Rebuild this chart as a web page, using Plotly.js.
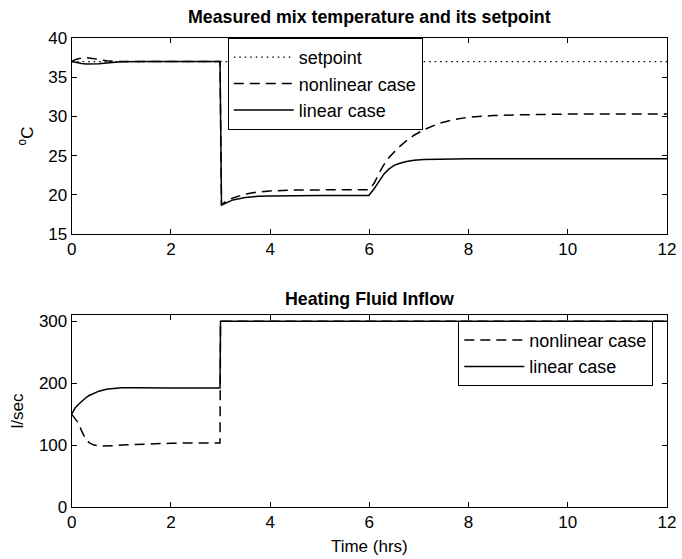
<!DOCTYPE html>
<html><head><meta charset="utf-8">
<script src="https://cdn.plot.ly/plotly-3.0.1.min.js"></script>
<style>html,body{margin:0;padding:0;background:#fff}#chart{width:682px;height:559px}</style>
</head><body><div id="chart"></div>
<script>
// ---- Top panel: measured mix temperature (deg C) ----
const tTemp = [0, 0.1, 0.2, 0.3, 0.42, 0.55, 0.7, 0.85, 1.0, 1.5, 2.0, 2.5, 2.99, 3.02, 3.1, 3.25, 3.5, 3.75, 4.0, 4.5, 5.0, 5.5, 5.99, 6.1, 6.2, 6.3, 6.4, 6.5, 6.6, 6.75, 6.9, 7.1, 7.4, 7.7, 8.0, 8.5, 9.0, 10.0, 11.0, 12.0];
const tempLinear = [37.0, 36.85, 36.75, 36.7, 36.68, 36.72, 36.82, 36.92, 36.97, 37.0, 37.0, 37.0, 37.0, 18.7, 18.95, 19.35, 19.65, 19.8, 19.85, 19.9, 19.9, 19.9, 19.9, 20.8, 21.8, 22.7, 23.3, 23.75, 24.0, 24.25, 24.4, 24.5, 24.55, 24.6, 24.6, 24.6, 24.6, 24.6, 24.6, 24.6];
const tempNonlinear = [37.0, 37.3, 37.45, 37.5, 37.4, 37.25, 37.1, 37.02, 37.0, 37.0, 37.0, 37.0, 37.0, 18.7, 19.15, 19.6, 20.1, 20.35, 20.5, 20.6, 20.65, 20.65, 20.65, 21.5, 22.8, 23.9, 24.8, 25.5, 26.1, 26.9, 27.6, 28.3, 29.1, 29.6, 29.9, 30.1, 30.2, 30.3, 30.3, 30.3];
const setpointTime = [0, 12];
const setpointValue = [37, 37];

// ---- Bottom panel: heating fluid inflow (l/sec) ----
const tFlow = [0, 0.07, 0.14, 0.2, 0.28, 0.35, 0.45, 0.55, 0.7, 0.83, 1.0, 1.3, 1.6, 2.0, 2.5, 2.99, 3.0, 4, 6, 8, 10, 12];
const flowLinear = [150, 160, 166, 171, 176, 180, 184, 187, 190, 191.5, 192.5, 192.5, 192, 192, 192, 192, 300, 300, 300, 300, 300, 300];
const flowNonlinear = [150, 142, 135, 123, 110, 104, 100, 98.5, 98.5, 99, 100, 101, 102, 103, 103.5, 103.5, 300, 300, 300, 300, 300, 300];

const titleTop = 'Measured mix temperature and its setpoint';
const titleBottom = 'Heating Fluid Inflow';
const yTitleTop = '<sup>o</sup>C';
const yTitleBottom = 'l/sec';
const xTitleBottom = 'Time (hrs)';
const labelSetpoint = 'setpoint';
const labelNonlinear = 'nonlinear case';
const labelLinear = 'linear case';

const FONT = 'Liberation Sans, Arial, Helvetica, sans-serif';
const solid = {color: '#000', width: 1.5};
const dashed = {color: '#000', width: 1.5, dash: '10px,6px'};
const dotted = {color: '#000', width: 1.2, dash: '1.5px,4px'};

const traces = [
  {x: setpointTime, y: setpointValue, mode: 'lines', name: labelSetpoint, line: dotted, xaxis: 'x', yaxis: 'y', legend: 'legend', legendgroup: 'a'},
  {x: tTemp, y: tempNonlinear, mode: 'lines', name: labelNonlinear, line: dashed, xaxis: 'x', yaxis: 'y', legend: 'legend', legendgroup: 'b'},
  {x: tTemp, y: tempLinear, mode: 'lines', name: labelLinear, line: solid, xaxis: 'x', yaxis: 'y', legend: 'legend', legendgroup: 'c'},
  {x: tFlow, y: flowNonlinear, mode: 'lines', name: labelNonlinear, line: dashed, xaxis: 'x2', yaxis: 'y2', legend: 'legend2', legendgroup: 'd'},
  {x: tFlow, y: flowLinear, mode: 'lines', name: labelLinear, line: solid, xaxis: 'x2', yaxis: 'y2', legend: 'legend2', legendgroup: 'e'}
];

const axisCommon = {
  showline: true, linecolor: '#000', linewidth: 1, mirror: 'ticks',
  ticks: 'inside', ticklen: 5, tickwidth: 1, tickcolor: '#000',
  showgrid: false, zeroline: false, automargin: false,
  tickfont: {family: FONT, size: 17, color: '#000'}
};
const xd = [0.1051, 0.978];

const layout = {
  width: 682, height: 559,
  margin: {l: 0, r: 0, t: 0, b: 0},
  paper_bgcolor: '#fff', plot_bgcolor: '#fff',
  font: {family: FONT, color: '#000'},
  showlegend: true,
  xaxis: Object.assign({}, axisCommon, {domain: xd, range: [0, 12], dtick: 2, anchor: 'y'}),
  yaxis: Object.assign({}, axisCommon, {domain: [0.5814, 0.932], range: [15, 40], dtick: 5, anchor: 'x',
    title: {text: yTitleTop, font: {family: FONT, size: 17}, standoff: 10}}),
  xaxis2: Object.assign({}, axisCommon, {domain: xd, range: [0, 12], dtick: 2, anchor: 'y2',
    title: {text: xTitleBottom, font: {family: FONT, size: 17}, standoff: 8}}),
  yaxis2: Object.assign({}, axisCommon, {domain: [0.093, 0.4365], range: [0, 310], dtick: 100, anchor: 'x2',
    title: {text: yTitleBottom, font: {family: FONT, size: 17}, standoff: 10}}),
  legend: {x: 0.334, y: 0.932, xanchor: 'left', yanchor: 'top', bgcolor: '#fff',
    bordercolor: '#000', borderwidth: 1, font: {family: FONT, size: 18, color: '#000'},
    tracegroupgap: 0, traceorder: 'grouped', itemwidth: 60},
  legend2: {x: 0.672, y: 0.426, xanchor: 'left', yanchor: 'top', bgcolor: '#fff',
    bordercolor: '#000', borderwidth: 1, font: {family: FONT, size: 18, color: '#000'},
    tracegroupgap: 0, traceorder: 'grouped', itemwidth: 60},
  annotations: [
    {text: '<b>' + titleTop + '</b>', xref: 'paper', yref: 'paper', x: 0.5415, y: 1 - 17/559,
     xanchor: 'center', yanchor: 'middle', showarrow: false, font: {family: FONT, size: 17.8, color: '#000'}},
    {text: '<b>' + titleBottom + '</b>', xref: 'paper', yref: 'paper', x: 0.5415, y: 1 - 299/559,
     xanchor: 'center', yanchor: 'middle', showarrow: false, font: {family: FONT, size: 17.8, color: '#000'}}
  ]
};

Plotly.newPlot('chart', traces, layout, {displayModeBar: false, staticPlot: true});
</script>
</body></html>
